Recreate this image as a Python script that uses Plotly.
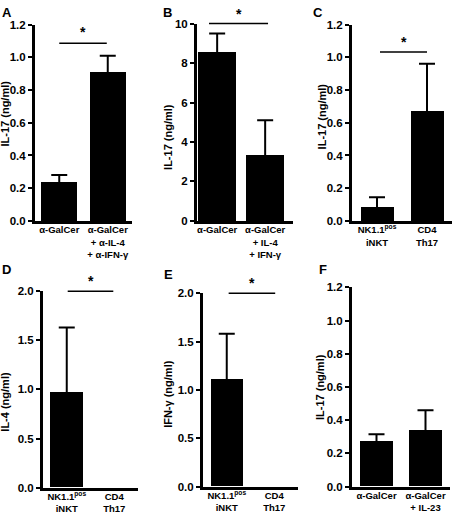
import plotly.graph_objects as go

W, H = 452, 521

# ---- data ----
a_cats = ["α-GalCer", "α-GalCer<br>+ α-IL-4<br>+ α-IFN-γ"]
a_vals = [0.24, 0.91]
a_err = [0.04, 0.10]

b_cats = ["α-GalCer", "α-GalCer<br>+ IL-4<br>+ IFN-γ"]
b_vals = [8.6, 3.35]
b_err = [0.9, 1.75]

c_cats = ["NK1.1<sup>pos</sup><br>iNKT", "CD4<br>Th17"]
c_vals = [0.09, 0.675]
c_err = [0.055, 0.285]

d_cats = ["NK1.1<sup>pos</sup><br>iNKT", "CD4<br>Th17"]
d_vals = [0.97, 0.0]
d_err = [0.66, None]

e_cats = ["NK1.1<sup>pos</sup><br>iNKT", "CD4<br>Th17"]
e_vals = [1.11, 0.0]
e_err = [0.47, None]

f_cats = ["α-GalCer", "α-GalCer<br>+ IL-23"]
f_vals = [0.27, 0.34]
f_err = [0.045, 0.12]

# panel geometry (pixels): x0, x1, ytop, ybottom
panels = [
    dict(letter="A", cats=a_cats, vals=a_vals, err=a_err, ymax=1.2, dtick=0.2, fmt=".1f",
         title="IL-17 (ng/ml)", px=(35, 132, 19, 220), xr=(-0.5, 1.5), bw=0.75,
         sig=(0.25, 0.74, 0.905, 0.96), lpos=(1, 7), tpos=(5, 110)),
    dict(letter="B", cats=b_cats, vals=b_vals, err=b_err, ymax=10, dtick=2, fmt="d",
         title="IL-17 (ng/ml)", px=(197, 293, 18, 220), xr=(-0.42, 1.58), bw=0.8,
         sig=(0.125, 0.74, 1.0, 1.05), lpos=(162, 7), tpos=(168, 134)),
    dict(letter="C", cats=c_cats, vals=c_vals, err=c_err, ymax=1.2, dtick=0.2, fmt=".1f",
         title="IL-17 (ng/ml)", px=(352, 452, 19, 220), xr=(-0.5, 1.5), bw=0.66,
         sig=(0.28, 0.75, 0.86, 0.91), lpos=(312, 7), tpos=(322, 113)),
    dict(letter="D", cats=d_cats, vals=d_vals, err=d_err, ymax=2.0, dtick=0.5, fmt=".1f",
         title="IL-4 (ng/ml)", px=(43, 138, 292, 493), xr=(-0.5, 1.5), bw=0.7,
         sig=(0.26, 0.74, 1.0, 1.05), lpos=(1, 270), tpos=(5, 405)),
    dict(letter="E", cats=e_cats, vals=e_vals, err=e_err, ymax=2.0, dtick=0.5, fmt=".1f",
         title="IFN-γ (ng/ml)", px=(203, 298, 294, 492), xr=(-0.5, 1.5), bw=0.68,
         sig=(0.27, 0.76, 1.0, 1.055), lpos=(163, 275), tpos=(168, 397)),
    dict(letter="F", cats=f_cats, vals=f_vals, err=f_err, ymax=1.2, dtick=0.2, fmt=".1f",
         title="IL-17 (ng/ml)", px=(352, 450, 288, 492), xr=(-0.5, 1.5), bw=0.66,
         sig=None, lpos=(318, 270), tpos=(320, 390)),
]

FONT = "Liberation Sans"
fig = go.Figure()
layout = dict(width=W, height=H, margin=dict(l=0, r=0, t=0, b=0),
              paper_bgcolor="white", plot_bgcolor="white", showlegend=False,
              font=dict(family=FONT, color="black"), bargap=0)
shapes, annotations = [], []

for i, p in enumerate(panels):
    k = "" if i == 0 else str(i + 1)
    xa, ya = "x" + k, "y" + k
    x0, x1, yt, yb = p["px"]
    fig.add_trace(go.Bar(
        x=[0, 1], y=p["vals"], width=p["bw"], marker=dict(color="black", line=dict(width=0)),
        xaxis=xa, yaxis=ya, hoverinfo="skip"))
    ex = [j for j, e in enumerate(p["err"]) if e is not None]
    fig.add_trace(go.Scatter(
        x=ex, y=[p["vals"][j] for j in ex], mode="markers",
        marker=dict(size=1, color="rgba(0,0,0,0)"),
        error_y=dict(type="data", array=[p["err"][j] for j in ex], symmetric=True,
                     color="black", thickness=2, width=8),
        xaxis=xa, yaxis=ya, hoverinfo="skip"))
    layout["xaxis" + k] = dict(
        domain=[x0 / W, x1 / W], anchor=ya, range=list(p["xr"]),
        tickvals=[0, 1], ticktext=[f"<b>{c}</b>" for c in p["cats"]],
        tickfont=dict(family=FONT, size=9.5, color="black"), ticklabelstandoff=-2,
        showline=True, linewidth=3, linecolor="black", ticks="", showgrid=False,
        zeroline=False, fixedrange=True)
    layout["yaxis" + k] = dict(
        domain=[1 - yb / H, 1 - yt / H], anchor=xa, range=[0, p["ymax"]],
        dtick=p["dtick"], tick0=0, tickformat=p["fmt"],
        tickfont=dict(family=FONT, size=11.5, color="black", weight="bold"),
        showline=True, linewidth=3, linecolor="black", ticks="outside",
        ticklen=4, tickwidth=2, tickcolor="black", showgrid=False, zeroline=False,
        fixedrange=True)
    # axis title as annotation
    annotations.append(dict(
        text=f"<b>{p['title']}</b>", x=p["tpos"][0] / W, y=1 - p["tpos"][1] / H,
        xref="paper", yref="paper", textangle=-90, showarrow=False, borderpad=0,
        font=dict(family=FONT, size=11, color="black"), xanchor="center", yanchor="middle"))
    # panel letter
    annotations.append(dict(
        text=f"<b>{p['letter']}</b>", x=p["lpos"][0] / W, y=1 - p["lpos"][1] / H,
        xref="paper", yref="paper", showarrow=False, xanchor="left", yanchor="middle",
        borderpad=0, font=dict(family=FONT, size=13, color="black")))
    if p["sig"]:
        sx0, sx1, sy, stary = p["sig"]
        shapes.append(dict(type="line", xref=xa + " domain", yref=ya + " domain",
                           x0=sx0, x1=sx1, y0=sy, y1=sy,
                           line=dict(color="black", width=1.5)))
        annotations.append(dict(text="<b>*</b>", xref=xa + " domain", yref=ya + " domain",
                                x=(sx0 + sx1) / 2, y=stary, showarrow=False,
                                xanchor="center", yanchor="middle", borderpad=0,
                                font=dict(family=FONT, size=14, color="black")))

layout["shapes"] = shapes
layout["annotations"] = annotations
fig.update_layout(**layout)
fig.write_html("out.html", config={"displayModeBar": False},
               post_script="document.body.style.margin='0px';")
